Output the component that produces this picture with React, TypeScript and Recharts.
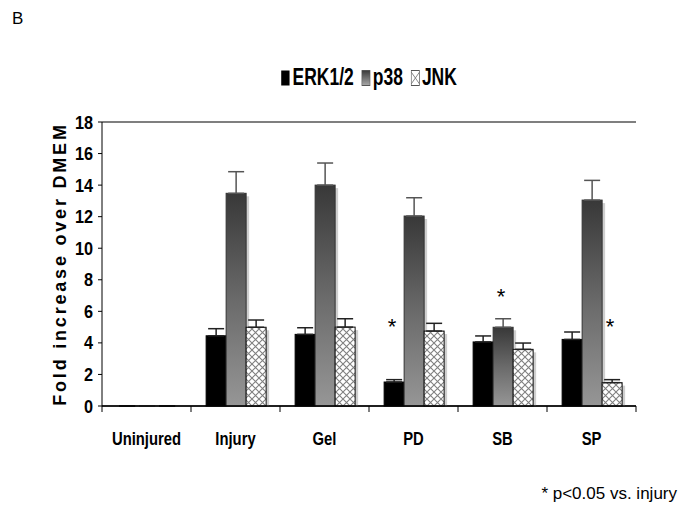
import React from 'react';
import { BarChart, Bar, XAxis, YAxis, CartesianGrid, ErrorBar, Legend } from 'recharts';

const categories = ['Uninjured', 'Injury', 'Gel', 'PD', 'SB', 'SP'];
const erk = [0, 4.45, 4.54, 1.52, 4.06, 4.22];
const erkErr = [0, 0.45, 0.42, 0.15, 0.38, 0.47];
const p38 = [0, 13.48, 14.0, 12.04, 4.99, 13.05];
const p38Err = [0, 1.37, 1.4, 1.16, 0.54, 1.25];
const jnk = [0, 4.99, 5.0, 4.75, 3.59, 1.48];
const jnkErr = [0, 0.46, 0.53, 0.49, 0.4, 0.19];
// height (in y units) of the significance asterisk, null = none
const erkStar = [null, null, null, 5.26, null, null];
const p38Star = [null, null, null, null, 7.16, null];
const jnkStar = [null, null, null, null, null, 5.26];
const yTicks = [0, 2, 4, 6, 8, 10, 12, 14, 16, 18];

const data = categories.map((name, i) => ({
  name,
  erk: erk[i],
  erkErr: [0, erkErr[i]],
  erkStar: erkStar[i],
  p38: p38[i],
  p38Err: [0, p38Err[i]],
  p38Star: p38Star[i],
  jnk: jnk[i],
  jnkErr: [0, jnkErr[i]],
  jnkStar: jnkStar[i],
}));

const arial = "'Liberation Sans', Arial, sans-serif";

// bar with optional drop shadow and significance asterisk
const makeShape = (valueKey: string, starKey: string, shadow: boolean) => (props: any) => {
  const { x, y, width, height, fill, stroke, payload } = props;
  if (!height || height <= 0) return <g />;
  const v = payload[valueKey];
  const star = payload[starKey];
  let starEl = null;
  if (star != null && v > 0) {
    const cy = y + height - (star * height) / v;
    starEl = (
      <text x={x + width / 2 - 2} y={cy + 11} textAnchor="middle" fontSize={22} fontFamily={arial} fill="#000">
        *
      </text>
    );
  }
  return (
    <g>
      {shadow && <rect x={x + 3} y={y + 3} width={width} height={height - 3} fill="#cfcfcf" />}
      <rect x={x} y={y} width={width} height={height} fill={fill} stroke={stroke} strokeWidth={1} />
      {starEl}
    </g>
  );
};

const CategoryTick = (props: any) => {
  const { x, y, payload, index } = props;
  const half = payload.offset || 0;
  return (
    <g>
      <line x1={x - half} y1={y} x2={x - half} y2={y + 6} stroke="#000" />
      {index === categories.length - 1 && <line x1={x + half} y1={y} x2={x + half} y2={y + 6} stroke="#000" />}
      <text
        transform={`translate(${x},${y + 39}) scale(0.78,1)`}
        textAnchor="middle"
        fontSize={19}
        fontWeight="bold"
        fontFamily={arial}
        fill="#000"
      >
        {payload.value}
      </text>
    </g>
  );
};

const ValueTick = (props: any) => {
  const { x, y, payload } = props;
  return (
    <text
      transform={`translate(${x},${y + 6.5}) scale(0.88,1)`}
      textAnchor="end"
      fontSize={18.5}
      fontWeight="bold"
      fontFamily={arial}
      fill="#000"
    >
      {payload.value}
    </text>
  );
};

const Swatch = ({ kind }: { kind: string }) => (
  <svg width={12} height={16} style={{ marginRight: 3 }}>
    <defs>
      <linearGradient id="lgP38" x1="0" y1="0" x2="0" y2="1">
        <stop offset="0" stopColor="#3a3a3a" />
        <stop offset="1" stopColor="#a8a8a8" />
      </linearGradient>
    </defs>
    {kind === 'erk' && <rect x={0.5} y={0.5} width={11} height={15} fill="#000" />}
    {kind === 'p38' && <rect x={0.5} y={0.5} width={11} height={15} fill="url(#lgP38)" stroke="#555" />}
    {kind === 'jnk' && (
      <g>
        <rect x={0.5} y={0.5} width={11} height={15} fill="#fff" stroke="#555" />
        <line x1={0.5} y1={2} x2={11.5} y2={14} stroke="#777" />
        <line x1={11.5} y1={2} x2={0.5} y2={14} stroke="#777" />
      </g>
    )}
  </svg>
);

const LegendContent = () => (
  <div
    style={{
      display: 'flex',
      justifyContent: 'center',
      alignItems: 'center',
      fontFamily: arial,
      fontWeight: 'bold',
      fontSize: 23,
      color: '#000',
      transform: 'scaleX(0.76)',
      transformOrigin: 'center',
    }}
  >
    <Swatch kind="erk" />
    <span style={{ marginRight: 10 }}>ERK1/2</span>
    <Swatch kind="p38" />
    <span style={{ marginRight: 10 }}>p38</span>
    <Swatch kind="jnk" />
    <span>JNK</span>
  </div>
);

export default function App() {
  return (
    <div style={{ position: 'absolute', left: 0, top: 0, width: 683, height: 517, background: '#fff' }}>
      <BarChart
        width={683}
        height={517}
        data={data}
        margin={{ top: 122, right: 47, bottom: 81, left: 62 }}
        barCategoryGap="17%"
        barGap={0}
      >
        <defs>
          <linearGradient id="gP38" x1="0" y1="0" x2="0" y2="1">
            <stop offset="0" stopColor="#383838" />
            <stop offset="0.5" stopColor="#6a6a6a" />
            <stop offset="1" stopColor="#969696" />
          </linearGradient>
          <pattern id="hatch" width={7} height={7} patternUnits="userSpaceOnUse">
            <rect width={7} height={7} fill="#fff" />
            <path d="M0,0 L7,7 M7,0 L0,7" stroke="#808080" strokeWidth={1.1} />
          </pattern>
        </defs>
        <CartesianGrid vertical={false} stroke="#000" strokeWidth={1.2} />
        <XAxis
          dataKey="name"
          axisLine={{ stroke: '#000', strokeWidth: 1.5 }}
          tickLine={false}
          tickSize={0}
          tickMargin={0}
          height={30}
          interval={0}
          tick={<CategoryTick />}
        />
        <YAxis
          yAxisId="left"
          domain={[0, 18]}
          ticks={yTicks}
          interval={0}
          width={40}
          tickSize={4}
          tickMargin={5}
          axisLine={{ stroke: '#000' }}
          tickLine={{ stroke: '#000' }}
          tick={<ValueTick />}
          label={{
            value: 'Fold increase over DMEM',
            angle: -90,
            position: 'insideLeft',
            dx: -7,
            dy: 0,
            style: { textAnchor: 'middle', fontSize: 18, fontWeight: 'bold', fontFamily: arial, letterSpacing: 2.8, fill: '#000' },
          }}
        />
        <YAxis yAxisId="right" orientation="right" domain={[0, 18]} tick={false} tickLine={false} width={0} axisLine={{ stroke: '#000' }} />
        <Legend verticalAlign="middle" layout="horizontal" align="center" wrapperStyle={{ top: 64, left: 102, width: 534 }} content={<LegendContent />} />
        <Bar yAxisId="left" dataKey="erk" name="ERK1/2" fill="#000" stroke="#000" shape={makeShape('erk', 'erkStar', false)} isAnimationActive={false}>
          <ErrorBar dataKey="erkErr" direction="y" width={8} stroke="#222" strokeWidth={1.5} />
        </Bar>
        <Bar yAxisId="left" dataKey="p38" name="p38" fill="url(#gP38)" stroke="#333" shape={makeShape('p38', 'p38Star', true)} isAnimationActive={false}>
          <ErrorBar dataKey="p38Err" direction="y" width={8} stroke="#555" strokeWidth={1.5} />
        </Bar>
        <Bar yAxisId="left" dataKey="jnk" name="JNK" fill="url(#hatch)" stroke="#111" shape={makeShape('jnk', 'jnkStar', true)} isAnimationActive={false}>
          <ErrorBar dataKey="jnkErr" direction="y" width={8} stroke="#222" strokeWidth={1.5} />
        </Bar>
      </BarChart>
      <div style={{ position: 'absolute', left: 12, top: 9, fontFamily: arial, fontSize: 17, color: '#000' }}>B</div>
      <div style={{ position: 'absolute', right: 6, top: 484, fontFamily: arial, fontSize: 17, color: '#000' }}>
        * p&lt;0.05 vs. injury
      </div>
    </div>
  );
}
